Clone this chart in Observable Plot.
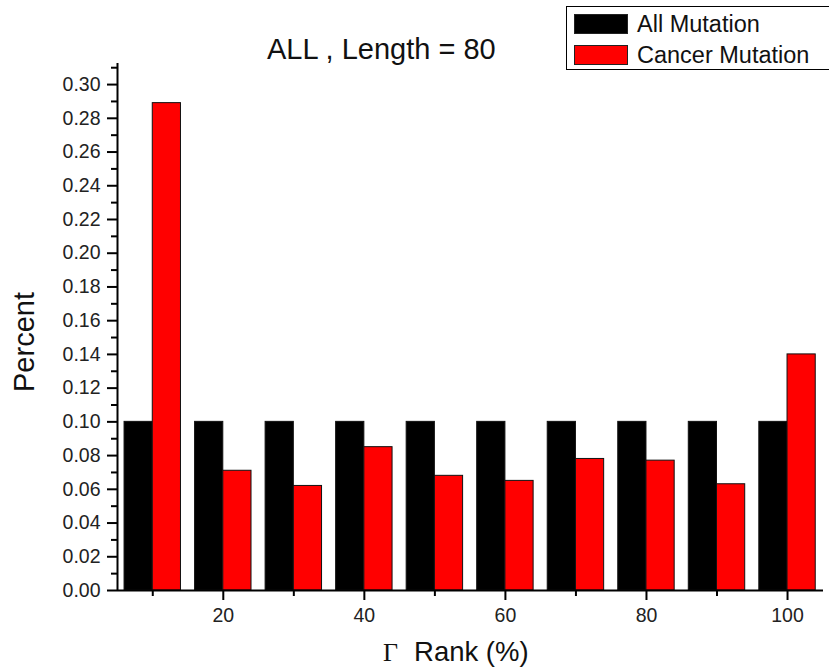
<!DOCTYPE html>
<html><head><meta charset="utf-8">
<script src="https://cdn.jsdelivr.net/npm/d3@7"></script>
<script src="https://cdn.jsdelivr.net/npm/@observablehq/plot@0.6"></script>
<style>
body{margin:0;background:#fff;font-family:Arial,"Liberation Sans",sans-serif;overflow:hidden}
#wrap{position:relative;width:829px;height:672px;overflow:hidden}
.t{position:absolute;color:#111;white-space:nowrap;line-height:1}
#legend{position:absolute;left:566px;top:6px;width:270px;height:62px;border:1.5px solid #000;background:#fff}
.row{position:absolute;left:7px;height:22px;display:flex;align-items:center}
.sw{width:54px;height:20px;border:1px solid #222;box-sizing:border-box;margin-right:9px}
.lab{font-size:23.5px;color:#111;white-space:nowrap}
</style></head><body>
<div id="wrap"></div>
<script>
const ranks = [10, 20, 30, 40, 50, 60, 70, 80, 90, 100];
const allMutation = [0.10, 0.10, 0.10, 0.10, 0.10, 0.10, 0.10, 0.10, 0.10, 0.10];
const cancerMutation = [0.289, 0.071, 0.062, 0.085, 0.068, 0.065, 0.078, 0.077, 0.063, 0.140];
const seriesNames = ["All Mutation", "Cancer Mutation"];
const seriesColors = ["#000000", "#ff0000"];
const xMajorTicks = [20, 40, 60, 80, 100];
const xMinorTicks = [10, 30, 50, 70, 90];
const yMajorTicks = [0, 0.02, 0.04, 0.06, 0.08, 0.10, 0.12, 0.14, 0.16, 0.18, 0.20, 0.22, 0.24, 0.26, 0.28, 0.30];
const yMinorTicks = [0.01, 0.03, 0.05, 0.07, 0.09, 0.11, 0.13, 0.15, 0.17, 0.19, 0.21, 0.23, 0.25, 0.27, 0.29, 0.31];
const titleText = "ALL , Length = 80";
const yLabel = "Percent";
const xLabelSymbol = "Γ";
const xLabel = "Rank (%)";

const halfWidth = 4;
const bars = ranks.flatMap((r, i) => [
  {rank: r, series: seriesNames[0], value: allMutation[i], x1: r - halfWidth, x2: r},
  {rank: r, series: seriesNames[1], value: cancerMutation[i], x1: r, x2: r + halfWidth}
]);

const chart = Plot.plot({
  width: 829,
  height: 672,
  marginLeft: 117,
  marginRight: 6,
  marginTop: 63,
  marginBottom: 82,
  style: {fontFamily: "Arial, 'Liberation Sans', sans-serif", background: "#fff"},
  x: {domain: [5, 105.1]},
  y: {domain: [0, 0.3125]},
  color: {domain: seriesNames, range: seriesColors},
  marks: [
    Plot.rectY(bars, {x1: "x1", x2: "x2", y1: 0, y2: "value", fill: "series", stroke: "#111", strokeWidth: 1}),
    Plot.axisY({ticks: yMajorTicks, tickSize: 10, tickPadding: 7, tickFormat: d3.format(".2f"), fontSize: 19.5, strokeWidth: 2, stroke: "#000", fill: "#222", label: null}),
    Plot.axisY({ticks: yMinorTicks, tickSize: 6, tickFormat: () => "", strokeWidth: 2, stroke: "#000", label: null}),
    Plot.axisX({ticks: xMajorTicks, tickSize: 10, tickPadding: 8, fontSize: 19.5, strokeWidth: 2, stroke: "#000", fill: "#222", label: null}),
    Plot.axisX({ticks: xMinorTicks, tickSize: 6, tickFormat: () => "", strokeWidth: 2, stroke: "#000", label: null}),
    Plot.ruleY([0], {stroke: "#000", strokeWidth: 2}),
    Plot.ruleX([5], {stroke: "#000", strokeWidth: 2})
  ]
});

const wrap = document.getElementById("wrap");
wrap.appendChild(chart);

const title = document.createElement("div");
title.className = "t";
title.style.cssText = "left:267px;top:35px;font-size:29px;";
title.textContent = titleText;
wrap.appendChild(title);

const yl = document.createElement("div");
yl.className = "t";
yl.style.cssText = "left:24px;top:342px;font-size:29px;transform:translate(-50%,-50%) rotate(-90deg);";
yl.textContent = yLabel;
wrap.appendChild(yl);

const xl = document.createElement("div");
xl.className = "t";
xl.style.cssText = "left:383px;top:638px;font-size:27.5px;";
xl.innerHTML = `<span style="font-family:'Liberation Serif',serif;font-size:26px">${xLabelSymbol}</span><span style="display:inline-block;width:16px"></span>${xLabel}`;
wrap.appendChild(xl);

const legend = document.createElement("div");
legend.id = "legend";
seriesNames.forEach((name, i) => {
  const row = document.createElement("div");
  row.className = "row";
  row.style.top = (6 + i * 31) + "px";
  row.innerHTML = `<div class="sw" style="background:${seriesColors[i]}"></div><span class="lab">${name}</span>`;
  legend.appendChild(row);
});
wrap.appendChild(legend);
</script>
</body></html>
